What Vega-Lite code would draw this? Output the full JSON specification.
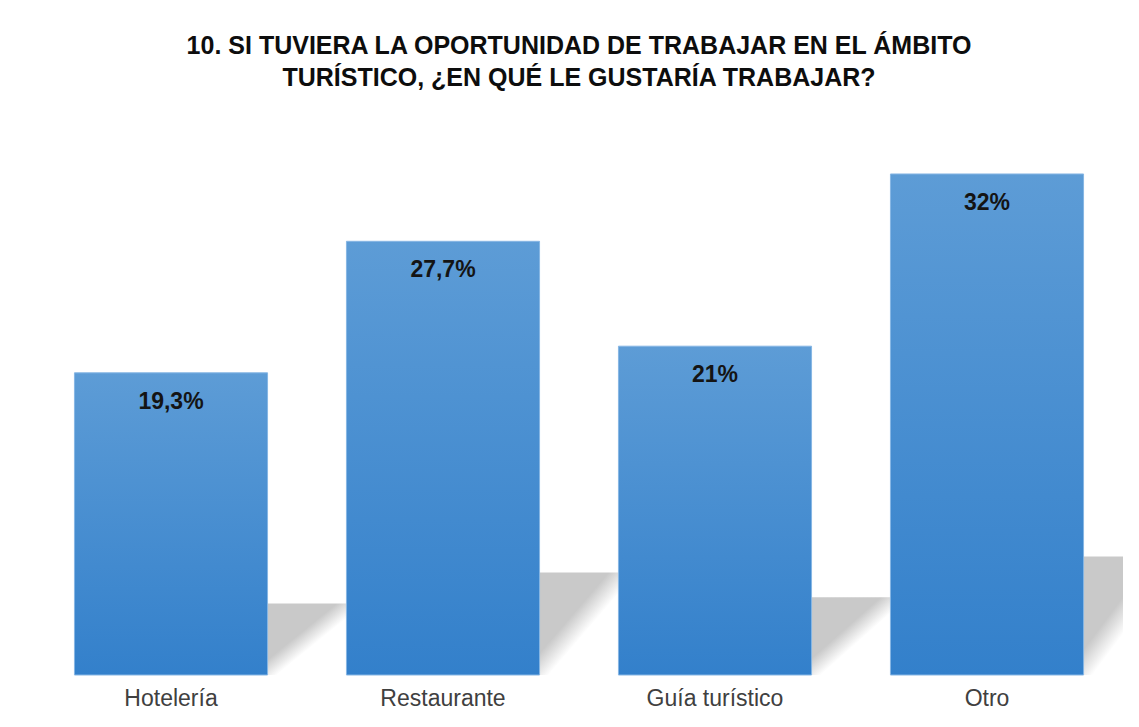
{
  "$schema": "https://vega.github.io/schema/vega-lite/v6.json",
  "autosize": "none",
  "width": 1088,
  "height": 548,
  "padding": {"left": 35, "top": 127, "right": 16, "bottom": 52},
  "background": "#ffffff",
  "title": {
    "text": ["10. SI TUVIERA LA OPORTUNIDAD  DE TRABAJAR  EN EL ÁMBITO", "TURÍSTICO, ¿EN QUÉ LE GUSTARÍA TRABAJAR?"],
    "font": "Liberation Sans",
    "fontSize": 25,
    "fontWeight": "bold",
    "color": "#0d0d0d",
    "lineHeight": 32,
    "anchor": "middle",
    "offset": 36
  },
  "data": {
    "values": [
      {"categoria": "Hotelería", "porcentaje": 19.3, "etiqueta": "19,3%"},
      {"categoria": "Restaurante", "porcentaje": 27.7, "etiqueta": "27,7%"},
      {"categoria": "Guía turístico", "porcentaje": 21, "etiqueta": "21%"},
      {"categoria": "Otro", "porcentaje": 32, "etiqueta": "32%"}
    ]
  },
  "encoding": {
    "x": {
      "field": "categoria",
      "type": "nominal",
      "sort": null,
      "scale": {"paddingInner": 0.29, "paddingOuter": 0.145},
      "axis": {
        "title": null,
        "labelAngle": 0,
        "domain": false,
        "ticks": false,
        "labelPadding": 12,
        "labelFont": "Liberation Sans",
        "labelFontSize": 23,
        "labelColor": "#404040"
      }
    }
  },
  "layer": [
    {
      "mark": {
        "type": "bar",
        "width": 281,
        "xOffset": 44,
        "clip": true,
        "color": {
          "gradient": "linear",
          "x1": 0, "y1": 0, "x2": 1, "y2": 0.313,
          "stops": [
            {"offset": 0, "color": "#c9c9c9"},
            {"offset": 0.85, "color": "#c9c9c9"},
            {"offset": 0.94, "color": "#ffffff"}
          ]
        }
      },
      "encoding": {
        "y": {
          "field": "porcentaje",
          "type": "quantitative",
          "scale": {"domain": [0, 148], "nice": false},
          "axis": null
        }
      }
    },
    {
      "layer": [
        {
          "mark": {
            "type": "bar",
            "stroke": "#86b6e4",
            "strokeWidth": 1,
            "color": {
              "gradient": "linear",
              "x1": 0, "y1": 0, "x2": 0, "y2": 1,
              "stops": [
                {"offset": 0, "color": "#5d9cd6"},
                {"offset": 1, "color": "#3380cb"}
              ]
            }
          },
          "encoding": {
            "y": {
              "field": "porcentaje",
              "type": "quantitative",
              "scale": {"domain": [0, 35], "nice": false},
              "axis": null
            }
          }
        },
        {
          "mark": {
            "type": "text",
            "baseline": "middle",
            "align": "center",
            "dy": 29,
            "font": "Liberation Sans",
            "fontSize": 23,
            "fontWeight": "bold",
            "color": "#141414"
          },
          "encoding": {
            "y": {"field": "porcentaje", "type": "quantitative"},
            "text": {"field": "etiqueta", "type": "nominal"}
          }
        }
      ]
    }
  ],
  "resolve": {"scale": {"y": "independent"}, "axis": {"y": "independent"}},
  "config": {
    "view": {"stroke": null},
    "axis": {"grid": false}
  }
}
